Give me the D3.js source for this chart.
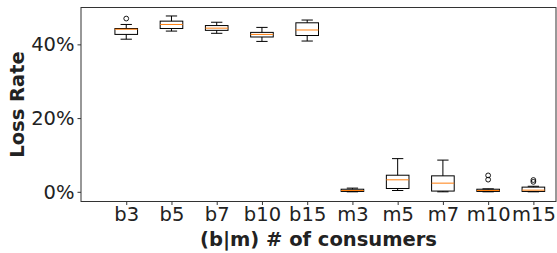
<!DOCTYPE html>
<html>
<head>
<meta charset="UTF-8">
<title>loss rate</title>
<style>
  body { margin: 0; background: #fff; }
  text { font-family: "DejaVu Sans", sans-serif; }
</style>
</head>
<body>
<script src="https://cdn.jsdelivr.net/npm/d3@7/dist/d3.min.js"></script>
<script>
  // box statistics (percent)
  let categories = ['b3', 'b5', 'b7', 'b10', 'b15', 'm3', 'm5', 'm7', 'm10', 'm15']
  let whiskerLow = [41.4, 43.6, 43.0, 40.8, 40.9, 0.0, 0.35, 0.0, 0.0, 0.0]
  let q1 = [42.7, 44.3, 43.8, 42.0, 42.4, 0.1, 0.9, 0.2, 0.1, 0.1]
  let median = [44.1, 45.4, 44.4, 42.7, 43.9, 0.35, 3.25, 2.35, 0.35, 0.45]
  let q3 = [44.3, 46.3, 45.1, 43.25, 45.85, 0.7, 4.5, 4.33, 0.7, 1.27]
  let whiskerHigh = [45.4, 47.7, 46.0, 44.6, 46.6, 1.0, 9.0, 8.6, 0.8, 1.5]
  let outliers = [[47.0], [], [], [], [], [], [], [], [4.45, 3.3], [3.2, 2.7]]
  let yTicks = [0, 20, 40]

  let width = 557
  let height = 253
  let mLeft = 81, mRight = 556, mTop = 7.5, mBottom = 201.5

  let x = d3.scaleLinear().domain([0, 10.5]).range([mLeft, mRight])
  let y = d3.scaleLinear().domain([-2.63, 50]).range([mBottom, mTop])
  let boxW = x(0.5) - x(0)
  let capW = boxW / 2

  let svg = d3.select('body').append('svg')
    .attr('width', width)
    .attr('height', height)

  let data = categories.map((c, i) => ({
    c: c, pos: i + 1,
    lo: whiskerLow[i], q1: q1[i], med: median[i], q3: q3[i], hi: whiskerHigh[i],
    out: outliers[i]
  }))

  let g = svg.selectAll('g.box').data(data).enter().append('g').attr('class', 'box')

  // whiskers
  g.append('line')
    .attr('x1', d => x(d.pos)).attr('x2', d => x(d.pos))
    .attr('y1', d => y(d.q3)).attr('y2', d => y(d.hi))
    .attr('stroke', '#000').attr('stroke-width', 1)
  g.append('line')
    .attr('x1', d => x(d.pos)).attr('x2', d => x(d.pos))
    .attr('y1', d => y(d.q1)).attr('y2', d => y(d.lo))
    .attr('stroke', '#000').attr('stroke-width', 1)
  // caps
  g.append('line')
    .attr('x1', d => x(d.pos) - capW / 2).attr('x2', d => x(d.pos) + capW / 2)
    .attr('y1', d => y(d.hi)).attr('y2', d => y(d.hi))
    .attr('stroke', '#000').attr('stroke-width', 1)
  g.append('line')
    .attr('x1', d => x(d.pos) - capW / 2).attr('x2', d => x(d.pos) + capW / 2)
    .attr('y1', d => y(d.lo)).attr('y2', d => y(d.lo))
    .attr('stroke', '#000').attr('stroke-width', 1)
  // box
  g.append('rect')
    .attr('x', d => x(d.pos) - boxW / 2)
    .attr('y', d => y(d.q3))
    .attr('width', boxW)
    .attr('height', d => y(d.q1) - y(d.q3))
    .attr('fill', 'none')
    .attr('stroke', '#000').attr('stroke-width', 1)
  // median
  g.append('line')
    .attr('x1', d => x(d.pos) - boxW / 2).attr('x2', d => x(d.pos) + boxW / 2)
    .attr('y1', d => y(d.med)).attr('y2', d => y(d.med))
    .attr('stroke', '#ff7f0e').attr('stroke-width', 1)
  // fliers
  g.selectAll('circle').data(d => d.out.map(v => ({ pos: d.pos, v: v }))).enter()
    .append('circle')
    .attr('cx', d => x(d.pos)).attr('cy', d => y(d.v))
    .attr('r', 2.4)
    .attr('fill', 'none').attr('stroke', '#000').attr('stroke-width', 0.9)

  // frame
  svg.append('rect')
    .attr('x', mLeft).attr('y', mTop)
    .attr('width', mRight - mLeft).attr('height', mBottom - mTop)
    .attr('fill', 'none').attr('stroke', '#333').attr('stroke-width', 1)

  // axes
  let xAxis = svg.append('g')
    .attr('transform', `translate(0,${mBottom})`)
    .call(d3.axisBottom(x).tickValues(d3.range(1, 11)).tickFormat(d => categories[d - 1])
      .tickSize(3.5).tickPadding(2))
  let yAxis = svg.append('g')
    .attr('transform', `translate(${mLeft},0)`)
    .call(d3.axisLeft(y).tickValues(yTicks).tickFormat(d => d + '%')
      .tickSize(3.5).tickPadding(3))
  ;[xAxis, yAxis].forEach(a => {
    a.select('.domain').remove()
    a.selectAll('line').attr('stroke', '#333')
    a.selectAll('text').attr('font-family', '"DejaVu Sans", sans-serif')
      .attr('font-size', 19.5).attr('fill', '#222')
  })

  svg.append('text')
    .attr('x', (mLeft + mRight) / 2).attr('y', 245.5)
    .attr('text-anchor', 'middle')
    .attr('font-size', 19.5).attr('font-weight', 'bold').attr('fill', '#222')
    .text('(b|m) # of consumers')

  svg.append('text')
    .attr('transform', `translate(24,${(mTop + mBottom) / 2}) rotate(-90)`)
    .attr('text-anchor', 'middle')
    .attr('font-size', 19.5).attr('font-weight', 'bold').attr('fill', '#222')
    .text('Loss Rate')
</script>
</body>
</html>
